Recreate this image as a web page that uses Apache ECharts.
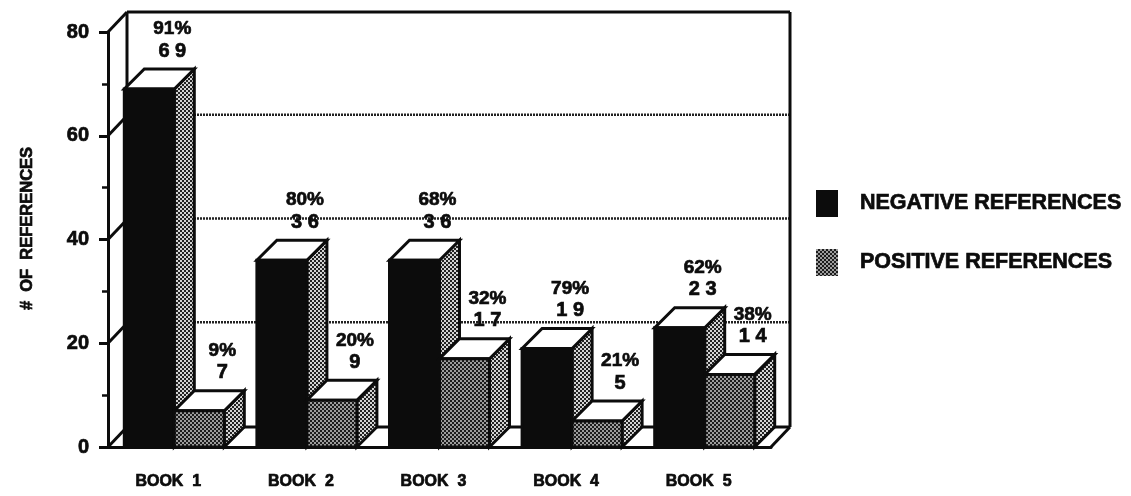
<!DOCTYPE html>
<html><head><meta charset="utf-8">
<style>html,body{margin:0;padding:0;background:#fff}#c{width:1131px;height:496px}</style>
<script src="https://cdn.jsdelivr.net/npm/echarts@6/dist/echarts.min.js"></script>
</head><body><div id="c"></div>
<script>
const categories = ['BOOK  1','BOOK  2','BOOK  3','BOOK  4','BOOK  5'];
const negativeValues = [69,36,36,19,23];
const positiveValues = [7,9,17,5,14];
const negativePct = ['91%','80%','68%','79%','62%'];
const positivePct = ['9%','20%','32%','21%','38%'];
const wallTicks = [0,20,40,60,80];
const gridValues = [20,40,60];

const DEPTH = 20, BAR_W = 50, INK = '#0c0c0c', FONT = '"Liberation Sans", Arial, sans-serif';
const HEAVY = {textBorderColor:INK, textBorderWidth:0.7};

function tile(dot, size, bg) {
  const c = document.createElement('canvas'); c.width = c.height = 4;
  const g = c.getContext('2d');
  g.fillStyle = bg; g.fillRect(0,0,4,4);
  g.fillStyle = dot; g.fillRect(0,0,size,size); g.fillRect(2,2,size,size);
  return c;
}
const frontPattern = {image: tile('#9c9c9c',2,'#1c1c1c'), repeat:'repeat'};
const sidePattern  = {image: tile('#d4d4d4',2,'#222222'), repeat:'repeat'};

function bar3d(side, pctList) {
  return function (params, api) {
    const i = params.dataIndex, val = api.value(1);
    const c = api.coord([api.value(0), val]);
    const base = api.coord([api.value(0), 0]);
    const x0 = side < 0 ? c[0]-BAR_W : c[0], x1 = x0+BAR_W, y = c[1], yb = base[1], d = DEPTH;
    const fill = side < 0 ? INK : frontPattern;
    const lineS = {stroke:INK, lineWidth:3, lineJoin:'miter'};
    const cx = (x0+x1)/2 + d + 3;
    return {type:'group', children:[
      {type:'polygon', shape:{points:[[x1,y],[x1+d,y-d],[x1+d,yb-d],[x1,yb]]}, style:Object.assign({fill:sidePattern},lineS)},
      {type:'polygon', shape:{points:[[x0,y],[x1,y],[x1+d,y-d],[x0+d,y-d]]}, style:Object.assign({fill:'#fff'},lineS)},
      {type:'rect', shape:{x:x0,y:y,width:BAR_W,height:yb-y}, style:Object.assign({fill:fill},lineS)},
      {type:'text', x:cx, y:y-d-18, style:{text:String(val).split('').join(' '), fill:INK, stroke:INK, lineWidth:0.7, font:'bold 20px '+FONT, align:'center', verticalAlign:'middle'}},
      {type:'text', x:cx, y:y-d-40, style:{text:pctList[i], fill:INK, stroke:INK, lineWidth:0.7, font:'bold 19px '+FONT, align:'center', verticalAlign:'middle'}}
    ]};
  };
}

function frame(params, api) {
  const v = api.value(0), cs = params.coordSys, p = api.coord([0, v]);
  const left = cs.x, right = cs.x+cs.width, y = p[1], d = DEPTH;
  const line = (a,b,c,e,extra)=>({type:'line', shape:{x1:a,y1:b,x2:c,y2:e}, style:Object.assign({stroke:INK,lineWidth:3},extra||{})});
  const kids = [line(left,y,left+d-1,y-d)];
  if (gridValues.includes(v)) kids.push(line(left+d,y-d-1,right+d-1,y-d-1,{lineDash:[2,1],lineWidth:2.5,stroke:'#222'}));
  if (v === 80) {
    kids.push(line(left+d-1,y-d,right+d-1,y-d));
    kids.push(line(left+d-1,y-d,left+d-1,cs.y+cs.height-d));
    kids.push(line(right+d-1,y-d,right+d-1,cs.y+cs.height-d));
  }
  if (v === 0) {
    kids.push(line(left+d-1,y-d,right+d-1,y-d));
    kids.push(line(right,y,right+d-1,y-d));
  }
  return {type:'group', children:kids};
}

const chart = echarts.init(document.getElementById('c'), null, {renderer:'canvas'});
chart.setOption({
  animation:false,
  backgroundColor:'#fff',
  grid:{left:108,right:360,top:32,bottom:49},
  legend:{
    left:811, top:185, orient:'vertical', itemWidth:22, itemHeight:27, itemGap:32, icon:'rect',
    selectedMode:false,
    data:[{name:'NEGATIVE REFERENCES'},{name:'POSITIVE REFERENCES'}],
    textStyle:Object.assign({color:INK,fontFamily:FONT,fontWeight:'bold',fontSize:21.5,padding:[4,0,0,17]},HEAVY)
  },
  xAxis:{
    type:'category', data:categories,
    axisLine:{lineStyle:{color:INK,width:3}},
    axisTick:{alignWithLabel:true,length:13,lineStyle:{color:INK,width:3}},
    axisLabel:Object.assign({color:INK,fontFamily:FONT,fontWeight:'bold',fontSize:16,margin:27,padding:[0,12,0,0]},HEAVY)
  },
  yAxis:{
    type:'value', min:0, max:80, interval:20,
    name:'#  OF  REFERENCES', nameLocation:'middle', nameGap:72,
    nameTextStyle:Object.assign({color:INK,fontFamily:FONT,fontWeight:'bold',fontSize:16.5,padding:[0,0,0,22]},HEAVY),
    axisLine:{show:true,lineStyle:{color:INK,width:3}},
    axisTick:{show:true,length:9,lineStyle:{color:INK,width:3}},
    minorTick:{show:true,splitNumber:2,length:6,lineStyle:{color:INK,width:2.5}},
    splitLine:{show:false},
    axisLabel:Object.assign({color:INK,fontFamily:FONT,fontWeight:'bold',fontSize:20,margin:19},HEAVY)
  },
  series:[
    {type:'custom',name:'wall',silent:true,clip:false,coordinateSystem:'cartesian2d',renderItem:frame,
     encode:{y:0},data:wallTicks.map(v=>[v])},
    {type:'custom',name:'NEGATIVE REFERENCES',silent:true,clip:false,itemStyle:{color:INK},
     renderItem:bar3d(-1,negativePct),encode:{x:0,y:1},data:categories.map((c,i)=>[c,negativeValues[i]])},
    {type:'custom',name:'POSITIVE REFERENCES',silent:true,clip:false,itemStyle:{color:frontPattern},
     renderItem:bar3d(1,positivePct),encode:{x:0,y:1},data:categories.map((c,i)=>[c,positiveValues[i]])}
  ]
});
</script></body></html>
